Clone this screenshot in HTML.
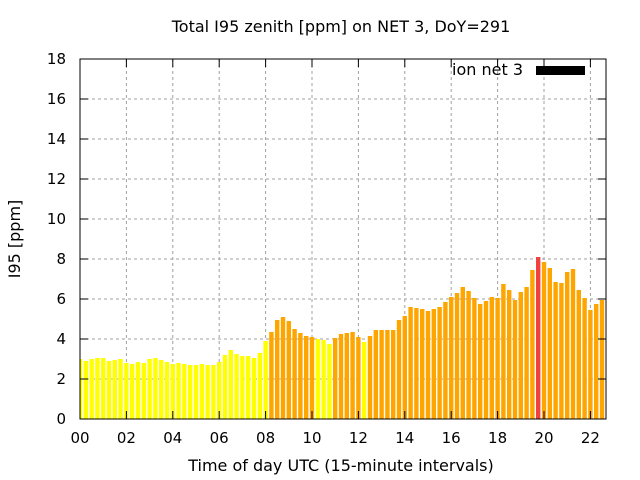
<!DOCTYPE html>
<html><head><meta charset="utf-8"><style>body{margin:0;background:#fff}svg{display:block;font-family:"DejaVu Sans","Liberation Sans",sans-serif}</style></head>
<body>
<svg id="chart" width="640" height="480" xmlns="http://www.w3.org/2000/svg">
<rect width="640" height="480" fill="#fff"/>
<g id="grid"></g>
<g id="bars"></g>
<g id="axes"></g>
<text x="341" y="32" font-size="16" text-anchor="middle">Total I95 zenith [ppm] on NET 3, DoY=291</text>
<text x="341" y="471" font-size="16" text-anchor="middle">Time of day UTC (15-minute intervals)</text>
<text x="0" y="0" font-size="16" text-anchor="middle" transform="translate(20,239) rotate(-90)">I95 [ppm]</text>
<g>
<text x="523" y="75" font-size="16" text-anchor="end">ion net 3</text>
<rect x="536" y="66" width="49" height="9" fill="#000"/>
</g>
</svg>
<script>
const values=[3.0,2.9,3.0,3.05,3.05,2.9,2.95,3.0,2.8,2.75,2.85,2.8,3.0,3.05,2.95,2.85,2.75,2.8,2.75,2.7,2.7,2.75,2.7,2.7,2.85,3.2,3.45,3.25,3.15,3.15,3.05,
3.3,3.9,4.35,4.95,5.1,4.9,4.5,4.3,4.15,4.1,4.0,3.95,3.75,4.05,4.25,4.3,4.35,4.1,3.85,4.15,4.45,4.45,4.45,4.45,4.95,5.15,5.6,5.55,5.5,5.4,
5.5,5.6,5.85,6.1,6.3,6.6,6.4,6.05,5.75,5.9,6.1,6.05,6.75,6.45,5.95,6.35,6.6,7.45,8.1,7.85,7.55,6.85,6.8,7.35,7.5,6.45,6.05,5.45,5.75,5.95,5.95];
const yTicks=[0,2,4,6,8,10,12,14,16,18];
const xTickLabels=["00","02","04","06","08","10","12","14","16","18","20","22"];
const X0=80,X1=606,Y0=419,Y1=59,STEP=5.8;
const ys=v=>Y0-(v/18)*(Y0-Y1);
const xs=i=>X0+i*STEP;
const NS="http://www.w3.org/2000/svg";
function mk(t,a,p){const e=document.createElementNS(NS,t);for(const k in a)e.setAttribute(k,a[k]);p.appendChild(e);return e;}
const grid=document.getElementById('grid'),bars=document.getElementById('bars'),axes=document.getElementById('axes');
yTicks.forEach(v=>{const y=ys(v);
 if(v>0&&v<18){const l=mk('line',{x1:X0,x2:X1,y1:y,y2:y,stroke:'#a0a0a0','stroke-dasharray':'3,3'},grid);
 
 }
 const t=mk('line',{x1:X0,x2:X0+8,y1:y,y2:y,stroke:'#000'},axes);
 
 
 const t2=mk('line',{x1:X1-8,x2:X1,y1:y,y2:y,stroke:'#000'},axes);
 
 
 const tx=mk('text',{x:66,y:y+5,'font-size':15,'text-anchor':'end'},axes);tx.textContent=v;
 
 
});
xTickLabels.forEach((s,k)=>{const x=xs(k*8);
 if(k>0){const l=mk('line',{x1:x,x2:x,y1:Y1,y2:Y0,stroke:'#a0a0a0','stroke-dasharray':'3,3'},grid);
 
 }
 const t=mk('line',{x1:x,x2:x,y1:Y0-8,y2:Y0,stroke:'#000'},axes);
 
 
 const t2=mk('line',{x1:x,x2:x,y1:Y1,y2:Y1+8,stroke:'#000'},axes);
 
 
 const tx=mk('text',{x:x,y:443,'font-size':15,'text-anchor':'middle'},axes);tx.textContent=s;
 
 
});
values.forEach((v,i)=>{const c=xs(i);let x=c-2.2,w=4.4;
 if(x<X0){w-=X0-x;x=X0;} if(x+w>X1)w=X1-x; if(w<=0)return;
 const col=v>=8?'#f04040':(v>4.02?'#ffa500':'#ffff00');
 const r=mk('rect',{x:x,y:ys(v),width:w,height:Y0-ys(v),fill:col},bars);
 
 
});
const b=mk('rect',{x:X0,y:Y1,width:X1-X0,height:Y0-Y1,fill:'none',stroke:'#000'},axes);


</script>
</body></html>
